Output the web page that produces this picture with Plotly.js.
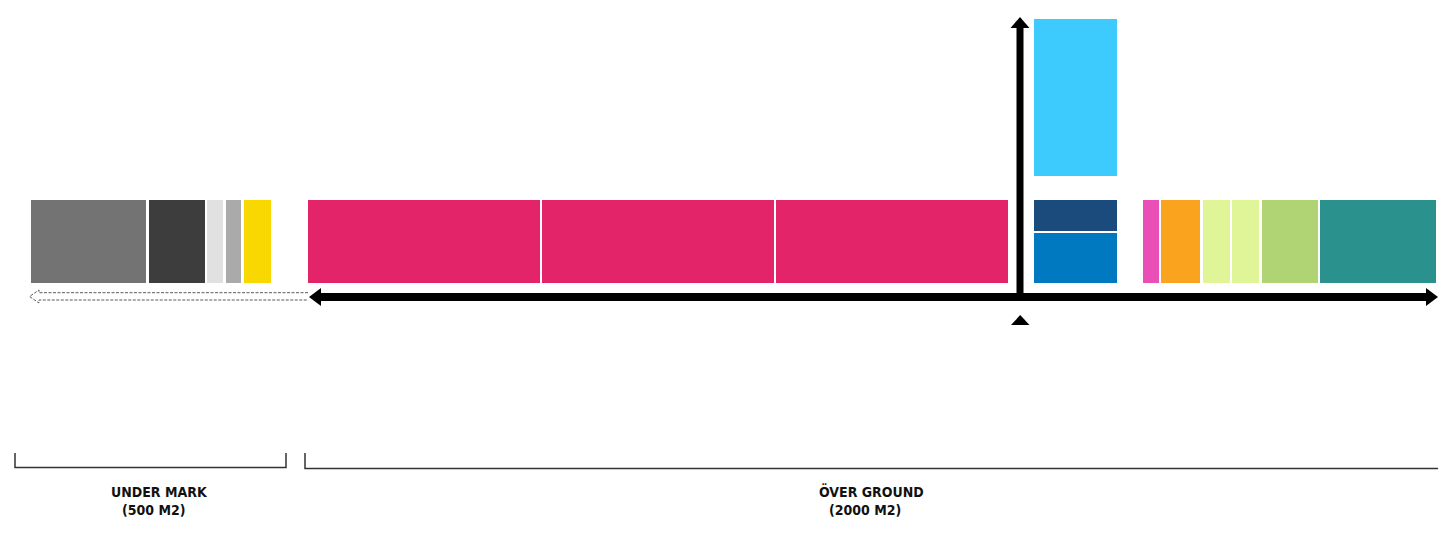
<!DOCTYPE html>
<html>
<head>
<meta charset="utf-8">
<script src="https://cdn.plot.ly/plotly-3.0.1.min.js"></script>
<style>html,body{margin:0;padding:0;background:#fff;}#chart{width:1438px;height:536px;}</style>
</head>
<body>
<div id="chart"></div>
<script>
// ---- data (block sizes in diagram units) ----
var underNames  = ["U1", "U2", "U3", "U4", "U5"];
var underSizes  = [115.5, 56, 16, 15.5, 27.5];
var underColors = ["#737373", "#3d3d3d", "#e1e1e1", "#aaaaaa", "#f9d700"];

var groundNames  = ["G1", "G2", "G3"];
var groundSizes  = [231.5, 231.5, 231.5];
var groundColors = ["#e42468", "#e42468", "#e42468"];

var towerNames   = ["T1", "T2", "T3"];
var towerSizes   = [50, 31, 157];
var towerColors  = ["#0079c1", "#1b4a7c", "#3dcafd"];
var towerGapsBefore = [0, 2, 24];

var rightNames  = ["R1", "R2", "R3", "R4", "R5", "R6"];
var rightSizes  = [15.5, 39, 27, 27, 56, 115.5];
var rightColors = ["#e94fb6", "#f9a31e", "#dff598", "#dff598", "#b0d474", "#2a918d"];

var labels = [
  {title: "UNDER MARK", sub: "(500 M2)"},
  {title: "ÖVER GROUND", sub: "(2000 M2)"}
];

// ---- layout constants ----
var GAP = 2.5;
var ROW_BASE = 14, ROW_H = 83;
var rowCenter = ROW_BASE + ROW_H / 2;

function bases(start, sizes, gaps) {
  var out = [], pos = start;
  for (var i = 0; i < sizes.length; i++) {
    if (i > 0) pos += (gaps ? gaps[i] : GAP);
    else if (gaps) pos += gaps[0];
    out.push(pos);
    pos += sizes[i];
  }
  return out;
}

function rowTrace(names, sizes, colors, start) {
  return {
    type: "bar", orientation: "h",
    x: sizes, base: bases(start, sizes),
    y: sizes.map(function(){ return rowCenter; }),
    width: ROW_H, text: names, textposition: "none",
    marker: {color: colors, line: {width: 0}},
    hoverinfo: "skip", showlegend: false
  };
}

var towerX = 1075.5, towerW = 83;
var traces = [
  rowTrace(underNames, underSizes, underColors, 30.5),
  rowTrace(groundNames, groundSizes, groundColors, 308),
  rowTrace(rightNames, rightSizes, rightColors, 1143),
  {
    type: "bar", orientation: "v",
    x: towerSizes.map(function(){ return towerX; }),
    y: towerSizes, base: bases(ROW_BASE, towerSizes, towerGapsBefore),
    width: towerW, text: towerNames, textposition: "none",
    marker: {color: towerColors, line: {width: 0}},
    hoverinfo: "skip", showlegend: false
  }
];

var shapes = [
  // horizontal axis arrow
  {type: "line", x0: 318, x1: 1428, y0: 0, y1: 0, line: {color: "#000", width: 8}},
  {type: "path", path: "M321,9 L321,-9 L309,0 Z", fillcolor: "#000", line: {width: 0}},
  {type: "path", path: "M1426,9 L1426,-9 L1438,0 Z", fillcolor: "#000", line: {width: 0}},
  // vertical axis arrow
  {type: "line", x0: 1020, x1: 1020, y0: -4, y1: 271, line: {color: "#000", width: 7}},
  {type: "path", path: "M1010.5,269 L1029.5,269 L1020,280 Z", fillcolor: "#000", line: {width: 0}},
  // small marker triangle
  {type: "path", path: "M1011,-28 L1029.5,-28 L1020.2,-18 Z", fillcolor: "#000", line: {width: 0}},
  // dashed hollow arrow (under ground)
  {type: "path", path: "M308,4.3 L39,4.3 L39,7 L29.5,0.5 L39,-6 L39,-3 L308,-3",
   line: {color: "#5a5a5a", width: 1, dash: "3px,1.5px"}},
  // brackets
  {type: "path", path: "M15,-156 L15,-170.5 L286,-170.5 L286,-156", line: {color: "#333", width: 1.5}},
  {type: "path", path: "M305,-156 L305,-171.5 L1440,-171.5", line: {color: "#333", width: 1.5}}
];

var fontSpec = {family: "DejaVu Sans Condensed, DejaVu Sans, sans-serif", size: 14, color: "#111", weight: 700};
var labelPos = [{x: 109, xs: 120}, {x: 817, xs: 827}];
var annotations = [];
labels.forEach(function(l, i) {
  annotations.push({x: labelPos[i].x, y: -194.5, xref: "x", yref: "y", xanchor: "left", yanchor: "middle",
                    text: l.title, showarrow: false, font: fontSpec});
  annotations.push({x: labelPos[i].xs, y: -213, xref: "x", yref: "y", xanchor: "left", yanchor: "middle",
                    text: l.sub, showarrow: false, font: fontSpec});
});

var layout = {
  width: 1438, height: 536, autosize: false,
  margin: {l: 0, r: 0, t: 0, b: 0, pad: 0},
  paper_bgcolor: "#fff", plot_bgcolor: "#fff",
  barmode: "overlay", bargap: 0,
  xaxis: {range: [0, 1438], visible: false, fixedrange: true},
  yaxis: {range: [-239, 297], visible: false, fixedrange: true},
  shapes: shapes, annotations: annotations, showlegend: false
};

Plotly.newPlot("chart", traces, layout, {displayModeBar: false, staticPlot: true});
</script>
</body>
</html>
